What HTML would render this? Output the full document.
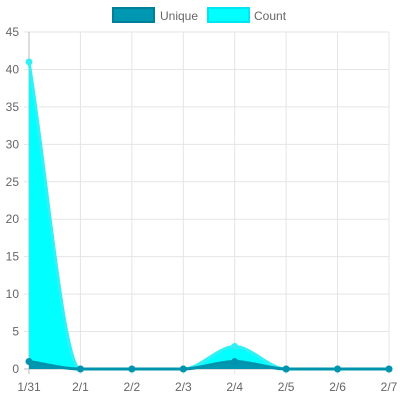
<!DOCTYPE html>
<html><head><meta charset="utf-8"><style>
body{margin:0;background:#fff;font-family:"Liberation Sans",sans-serif}
svg text{font-family:"Liberation Sans",sans-serif;font-size:12px;fill:#666}
</style></head><body>
<svg id="c" width="400" height="400">
<g>
<rect x="113" y="8" width="41" height="14" fill="#0097b2" stroke="#007f99" stroke-width="2"/>
<text x="160" y="20">Unique</text>
<rect x="208" y="8" width="41" height="14" fill="#00ffff" stroke="#00e5ee" stroke-width="2"/>
<text x="254" y="20">Count</text>
</g>
<g id="grid"></g><g id="series"></g>
</svg>
<script>
const labels=["1/31","2/1","2/2","2/3","2/4","2/5","2/6","2/7"];
const countVals=[41,0,0,0,3,0,0,0];
const uniqueVals=[1,0,0,0,1,0,0,0];
const yTicks=[0,5,10,15,20,25,30,35,40,45];
const NS="http://www.w3.org/2000/svg";
const X0=29,X1=389,Y0=369,Y1=32,YMAX=45;
const xs=i=>X0+(X1-X0)*i/(labels.length-1);
const ys=v=>Y0-(Y0-Y1)*v/YMAX;
function mk(t,a,p){const e=document.createElementNS(NS,t);for(const k in a)e.setAttribute(k,a[k]);p.appendChild(e);return e;}
const g=document.getElementById('grid');
yTicks.forEach(t=>{const l=mk('line',{x1:X0-5,x2:X1,y1:ys(t),y2:ys(t),stroke:t==0?'#bbb':'#e5e5e5'},g);


const tx=mk('text',{x:X0-10,y:ys(t)+4,'text-anchor':'end'},g);tx.textContent=t;

});
labels.forEach((s,i)=>{const l=mk('line',{x1:xs(i),x2:xs(i),y1:Y1,y2:Y0+5,stroke:i==0?'#bbb':'#e5e5e5'},g);


const tx=mk('text',{x:xs(i),y:Y0+22,'text-anchor':'middle'},g);tx.textContent=s;

});
function monoPath(vals){
const n=vals.length,px=vals.map((v,i)=>xs(i)),py=vals.map(ys);
const d=[],m=[];for(let i=0;i<n-1;i++)d.push((py[i+1]-py[i])/(px[i+1]-px[i]));
for(let i=0;i<n;i++){if(i==0)m.push(d[0]);else if(i==n-1)m.push(d[n-2]);else m.push(d[i-1]*d[i]<=0?0:(d[i-1]+d[i])/2);}
for(let i=0;i<n-1;i++){if(d[i]==0){m[i]=0;m[i+1]=0;continue;}const a=m[i]/d[i],b=m[i+1]/d[i],s=a*a+b*b;if(s>9){const t=3/Math.sqrt(s);m[i]=t*a*d[i];m[i+1]=t*b*d[i];}}
let p=`M${px[0]},${py[0]}`;
for(let i=0;i<n-1;i++){const h=(px[i+1]-px[i])/3;p+=` C${px[i]+h},${py[i]+m[i]*h} ${px[i+1]-h},${py[i+1]-m[i+1]*h} ${px[i+1]},${py[i+1]}`;}
return p;}
const s=document.getElementById('series');
function draw(vals,fill,stroke,name){
const p=monoPath(vals);
const a=mk('path',{d:p+` L${xs(vals.length-1)},${Y0} L${X0},${Y0} Z`,fill:fill},s);


const l=mk('path',{d:p,fill:'none',stroke:stroke,'stroke-width':3},s);


vals.forEach((v,i)=>{const c=mk('circle',{cx:xs(i),cy:ys(v),r:3.5,fill:stroke},s);

});}
draw(countVals,'#00ffff','#33f0f5','count');
draw(uniqueVals,'#0097b2','#0093ad','unique');
</script>
</body></html>
